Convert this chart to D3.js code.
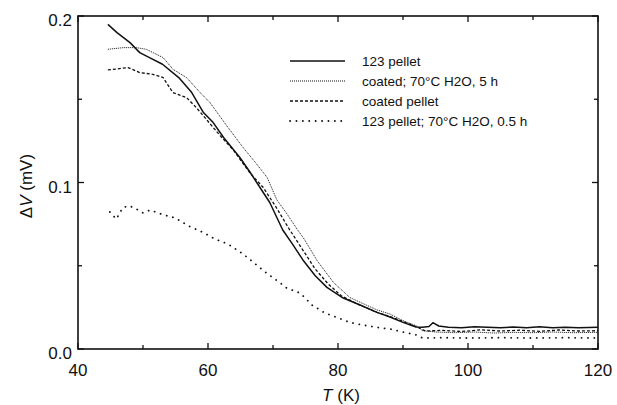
<!DOCTYPE html>
<html>
<head>
<meta charset="utf-8">
<script src="https://cdn.jsdelivr.net/npm/d3@7"></script>
<style>
  body { margin: 0; background: #fff; }
  svg { display: block; font-family: "Liberation Sans", Arial, sans-serif; }
  .tick-label { font-size: 17px; fill: #111; }
  .legend-text { font-size: 13.5px; fill: #111; }
  .axis-title { font-size: 17px; fill: #111; }
</style>
</head>
<body>
<div id="svg-container"></div>
<script>
// ---------------- data ----------------
const pelletT = [44.6, 46, 48, 49.5, 51, 53, 55.5, 57.5, 59.3, 60.8, 62.4, 64.9, 66.5, 68, 69.5, 71.5, 73, 74.6, 76.5, 78.3, 80.8, 83.4, 86, 88, 90, 92, 93, 94, 94.6, 95.5, 97, 99, 101, 103, 105, 107, 109, 111, 113, 115, 117, 120];
const pelletV = [0.195, 0.19, 0.184, 0.178, 0.175, 0.171, 0.163, 0.154, 0.142, 0.136, 0.127, 0.115, 0.106, 0.097, 0.088, 0.0715, 0.063, 0.0535, 0.044, 0.037, 0.0306, 0.0264, 0.022, 0.0192, 0.016, 0.0132, 0.013, 0.0135, 0.0158, 0.0138, 0.013, 0.0128, 0.0133, 0.013, 0.0128, 0.0132, 0.0128, 0.0134, 0.0128, 0.013, 0.0128, 0.013];

const coated5hT = [44.6, 47, 49, 50.5, 53.1, 54.6, 56.7, 58.8, 60.3, 62.9, 65.4, 67.5, 69.1, 70.6, 72, 73.7, 74.8, 76.8, 79.3, 81.8, 84, 86, 88, 90, 92, 93, 95, 98, 101, 104, 107, 110, 113, 116, 120];
const coated5hV = [0.18, 0.181, 0.181, 0.18, 0.175, 0.168, 0.163, 0.154, 0.148, 0.134, 0.121, 0.111, 0.103, 0.0895, 0.082, 0.072, 0.066, 0.053, 0.04, 0.031, 0.027, 0.0235, 0.021, 0.017, 0.014, 0.011, 0.0102, 0.0098, 0.0102, 0.0096, 0.01, 0.0098, 0.0102, 0.0098, 0.01];

const coatedT = [44.6, 47.7, 49.5, 51.5, 53.1, 54.6, 56.7, 58.2, 59.3, 61.9, 63.9, 66.5, 68.5, 70.5, 72.5, 74.5, 76.5, 78.5, 80.5, 83, 86, 88, 90, 92, 93.5, 96, 99, 102, 105, 108, 111, 114, 117, 120];
const coatedV = [0.1676, 0.169, 0.166, 0.165, 0.163, 0.154, 0.151, 0.145, 0.14, 0.128, 0.1195, 0.1055, 0.097, 0.085, 0.072, 0.06, 0.048, 0.039, 0.032, 0.027, 0.022, 0.0195, 0.0165, 0.0135, 0.0108, 0.0112, 0.0105, 0.0115, 0.0108, 0.0113, 0.0106, 0.0114, 0.0108, 0.011];

const pellet05hT = [44.9, 45.9, 46.9, 47.9, 49, 50, 51.1, 53.2, 55, 57, 59.1, 61.1, 63.1, 65.2, 67, 69, 71, 72.1, 74.2, 76, 78, 79.8, 81.8, 83.8, 86, 88, 90, 92.1, 93, 96, 100, 105, 110, 115, 120];
const pellet05hV = [0.0823, 0.078, 0.085, 0.086, 0.084, 0.0817, 0.0835, 0.0805, 0.0787, 0.0739, 0.0703, 0.066, 0.063, 0.0576, 0.052, 0.0456, 0.04, 0.0366, 0.0336, 0.0264, 0.0216, 0.019, 0.016, 0.0144, 0.013, 0.012, 0.0102, 0.0084, 0.0066, 0.0068, 0.0066, 0.0068, 0.0066, 0.0068, 0.0066];

const seriesNames = ["123 pellet", "coated; 70°C H2O, 5 h", "coated pellet", "123 pellet; 70°C H2O, 0.5 h"];
const xMajor = [40, 60, 80, 100, 120];
const xMinor = [50, 70, 90, 110];
const yMajor = [0.0, 0.1, 0.2];
const yMinor = [0.05, 0.15];

// ---------------- init ----------------
const width = 617;
const height = 405;
const margin = { top: 16, right: 19, bottom: 56, left: 78 };

const svg = d3.select("#svg-container").append("svg")
  .attr("width", width).attr("height", height);

const x = d3.scaleLinear().domain([40, 120]).range([margin.left, width - margin.right]);
const y = d3.scaleLinear().domain([0, 0.2]).range([height - margin.bottom, margin.top]);

// frame
svg.append("rect")
  .attr("x", x(40)).attr("y", y(0.2))
  .attr("width", x(120) - x(40)).attr("height", y(0) - y(0.2))
  .attr("fill", "none").attr("stroke", "#111").attr("stroke-width", 1.6);

// inward ticks on all four sides
const tickG = svg.append("g").attr("stroke", "#111").attr("stroke-width", 1.3);
function xTicks(vals, len) {
  vals.forEach(v => {
    tickG.append("line").attr("x1", x(v)).attr("x2", x(v)).attr("y1", y(0)).attr("y2", y(0) - len);
    tickG.append("line").attr("x1", x(v)).attr("x2", x(v)).attr("y1", y(0.2)).attr("y2", y(0.2) + len);
  });
}
function yTicks(vals, len) {
  vals.forEach(v => {
    tickG.append("line").attr("x1", x(40)).attr("x2", x(40) + len).attr("y1", y(v)).attr("y2", y(v));
    tickG.append("line").attr("x1", x(120)).attr("x2", x(120) - len).attr("y1", y(v)).attr("y2", y(v));
  });
}
xTicks(xMajor, 6);
xTicks(xMinor, 4);
yTicks(yMajor, 6);
yTicks(yMinor, 4);

// tick labels
svg.append("g").selectAll("text").data(xMajor).enter().append("text")
  .attr("class", "tick-label")
  .attr("x", d => x(d)).attr("y", y(0) + 27)
  .attr("text-anchor", "middle")
  .text(d => d);

svg.append("g").selectAll("text").data(yMajor).enter().append("text")
  .attr("class", "tick-label")
  .attr("x", x(40) - 6).attr("y", d => y(d) + 10)
  .attr("text-anchor", "end")
  .text(d3.format(".1f"));

// axis titles
const xt = svg.append("text").attr("class", "axis-title")
  .attr("x", 341).attr("y", 401).attr("text-anchor", "middle");
xt.append("tspan").attr("font-style", "italic").text("T");
xt.append("tspan").text(" (K)");

const yt = svg.append("text").attr("class", "axis-title")
  .attr("transform", "translate(32,186) rotate(-90)").attr("text-anchor", "middle");
yt.append("tspan").text("Δ");
yt.append("tspan").attr("font-style", "italic").text("V");
yt.append("tspan").text(" (mV)");

// ---------------- curves ----------------
const line = d3.line().x(d => x(d[0])).y(d => y(d[1]));
const styles = [
  { width: 1.5, dash: null, cap: "butt" },
  { width: 1.0, dash: "1,1", cap: "butt" },
  { width: 1.3, dash: "3,2", cap: "butt" },
  { width: 1.8, dash: "0.1,6.3", cap: "round" }
];
const series = [
  d3.zip(pelletT, pelletV),
  d3.zip(coated5hT, coated5hV),
  d3.zip(coatedT, coatedV),
  d3.zip(pellet05hT, pellet05hV)
];

series.forEach((s, i) => {
  svg.append("path")
    .datum(s)
    .attr("d", line)
    .attr("fill", "none")
    .attr("stroke", "#111")
    .attr("stroke-width", styles[i].width)
    .attr("stroke-dasharray", styles[i].dash)
    .attr("stroke-linecap", styles[i].cap)
    .attr("stroke-linejoin", "round");
});

// ---------------- legend ----------------
const legendY = [61, 81, 101, 121];
seriesNames.forEach((name, i) => {
  svg.append("line")
    .attr("x1", 290).attr("x2", 345)
    .attr("y1", legendY[i]).attr("y2", legendY[i])
    .attr("stroke", "#111")
    .attr("stroke-width", styles[i].width)
    .attr("stroke-dasharray", styles[i].dash)
    .attr("stroke-linecap", styles[i].cap);
  svg.append("text")
    .attr("class", "legend-text")
    .attr("x", 362).attr("y", legendY[i] + 5)
    .text(name);
});
</script>
</body>
</html>
